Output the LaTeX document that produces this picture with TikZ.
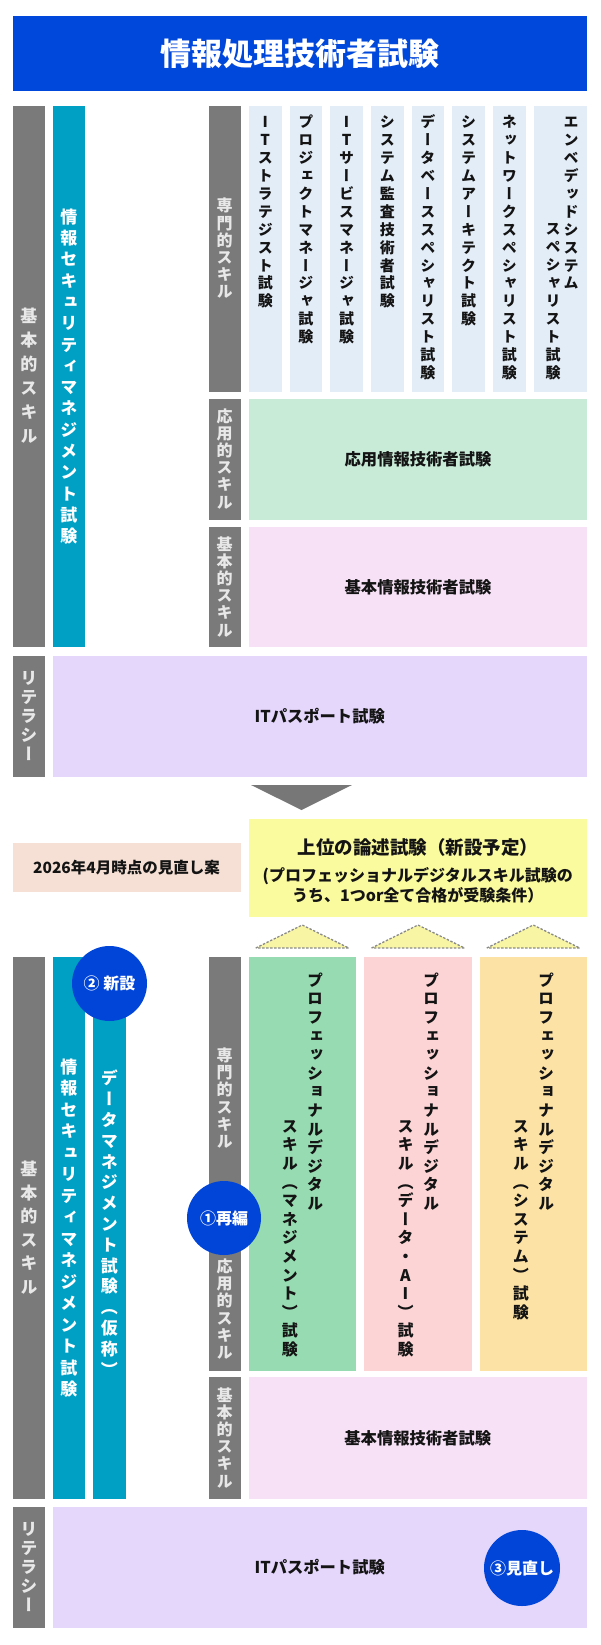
\documentclass[tikz,border=0pt]{standalone}
\usepackage{fontspec}
\setmainfont{Noto Sans CJK JP}
\newfontfamily\vfont{Noto Sans CJK JP}[RawFeature={+vert}]
\usetikzlibrary{fit}
\definecolor{titleblue}{HTML}{0047DB}
\definecolor{circblue}{HTML}{0045D8}
\definecolor{graycol}{HTML}{7A7A7A}
\definecolor{labtext}{HTML}{E8E8E8}
\definecolor{tealcol}{HTML}{00A0C5}
\definecolor{lightblue}{HTML}{E3EDF8}
\definecolor{greenA}{HTML}{C8EBD8}
\definecolor{pinkA}{HTML}{F7E1F6}
\definecolor{purplecol}{HTML}{E5D6FB}
\definecolor{yellowcol}{HTML}{FAFA9F}
\definecolor{peachcol}{HTML}{F6E0D5}
\definecolor{greenB}{HTML}{96DBB1}
\definecolor{pinkB}{HTML}{FDD4D5}
\definecolor{orangeB}{HTML}{FCE2A5}
\definecolor{trifill}{HTML}{F8F6A5}
\definecolor{tridash}{HTML}{8A8A8A}
\definecolor{arrowgray}{HTML}{777777}
\definecolor{ink}{HTML}{141414}
\ExplSyntaxOn
\cs_new:Npn \my_vcell:nn #1#2
  { \hbox_to_wd:nn {1em} { \hss \raisebox{0pt}[\dimexpr(#1pt-1em)/2+0.88em\relax][\dimexpr(#1pt-1em)/2+0.12em\relax]{#2} \hss } }
\NewDocumentCommand\vtext{mm}
  { \vbox:n { \offinterlineskip \tl_map_inline:nn {#2} { \my_vcell:nn {#1} {##1} } } }
\ExplSyntaxOff
\tikzset{
  box/.style={inner sep=0pt, outer sep=0pt, fill=#1},
  vlab/.style={inner sep=0pt, text=labtext, font=\vfont\bfseries\fontsize{16}{16}\selectfont},
  vbig/.style={inner sep=0pt, text=labtext, font=\vfont\bfseries\fontsize{17}{17}\selectfont},
  vwhite/.style={inner sep=0pt, text=white, font=\vfont\bfseries\fontsize{17}{17}\selectfont},
  vcol/.style={inner sep=0pt, text=ink, font=\vfont\bfseries\fontsize{15}{15}\selectfont},
  vprof/.style={inner sep=0pt, text=ink, font=\vfont\bfseries\fontsize{16}{16}\selectfont},
  htext/.style={inner sep=0pt, text=ink, font=\bfseries\fontsize{16.3}{16.3}\selectfont},
  badge/.style={circle, fill=circblue, inner sep=0pt, minimum size=75pt, text=white, font=\bfseries\fontsize{16}{16}\selectfont},
  dtri/.style={fill=trifill, draw=tridash, line width=1.3pt, dash pattern=on 2.4pt off 1.6pt},
}
\begin{document}
\begin{tikzpicture}[x=1pt,y=-1pt]
\useasboundingbox (0,0) rectangle (600,1645);
% ---------- title ----------
\node[box=titleblue, fit={(12.5,16) (587,91)}] (title) {};
\node[inner sep=0pt, text=white, font=\bfseries\fontsize{31}{31}\selectfont] (titletext) at (title.center) {情報処理技術者試験};
% ---------- current system ----------
\node[box=graycol, fit={(12.5,106) (45,647)}] (kihonA) {};
\node[vbig] (kihonAt) at (kihonA.center) {\vtext{24}{基本的スキル}};
\node[box=tealcol, fit={(52.5,106) (85,647)}] (secA) {};
\node[vwhite] (secAt) at (secA.center) {\vtext{21.3}{情報セキュリティマネジメント試験}};
\node[box=graycol, fit={(208.5,106) (240.5,391.5)}] (senA) {};
\node[vlab] (senAt) at (senA.center) {\vtext{17.2}{専門的スキル}};
% expert exams
\node[box=lightblue, fit={(249,106) (281.5,391.5)}] (c1) {};
\node[box=lightblue, fit={(289.7,106) (322.2,391.5)}] (c2) {};
\node[box=lightblue, fit={(330.3,106) (362.8,391.5)}] (c3) {};
\node[box=lightblue, fit={(371,106) (403.5,391.5)}] (c4) {};
\node[box=lightblue, fit={(411.7,106) (444.2,391.5)}] (c5) {};
\node[box=lightblue, fit={(452.4,106) (484.9,391.5)}] (c6) {};
\node[box=lightblue, fit={(493,106) (525.5,391.5)}] (c7) {};
\node[box=lightblue, fit={(533.7,106) (587,391.5)}] (c8) {};
\node[vcol, anchor=north] (c1t) at (c1.center |- 0,113) {\vtext{17.9}{ITストラテジスト試験}};
\node[vcol, anchor=north] (c2t) at (c2.center |- 0,113) {\vtext{17.9}{プロジェクトマネージャ試験}};
\node[vcol, anchor=north] (c3t) at (c3.center |- 0,113) {\vtext{17.9}{ITサービスマネージャ試験}};
\node[vcol, anchor=north] (c4t) at (c4.center |- 0,113) {\vtext{17.9}{システム監査技術者試験}};
\node[vcol, anchor=north] (c5t) at (c5.center |- 0,113) {\vtext{17.9}{データベーススペシャリスト試験}};
\node[vcol, anchor=north] (c6t) at (c6.center |- 0,113) {\vtext{17.9}{システムアーキテクト試験}};
\node[vcol, anchor=north] (c7t) at (c7.center |- 0,113) {\vtext{17.9}{ネットワークスペシャリスト試験}};
\node[vcol, anchor=north] (c8ta) at (571,113) {\vtext{17.9}{エンベデッドシステム}};
\node[vcol, anchor=south] (c8tb) at (553,381.5) {\vtext{17.9}{スペシャリスト試験}};
% applied
\node[box=graycol, fit={(208.5,398.5) (240.5,519.5)}] (oyoA) {};
\node[vlab] (oyoAt) at (oyoA.center) {\vtext{17.2}{応用的スキル}};
\node[box=greenA, fit={(249,398.5) (587,519.5)}] (apA) {};
\node[htext] (apAt) at (apA.center) {応用情報技術者試験};
% basic
\node[box=graycol, fit={(208.5,527) (240.5,647)}] (kisoA) {};
\node[vlab] (kisoAt) at (kisoA.center) {\vtext{17.2}{基本的スキル}};
\node[box=pinkA, fit={(249,527) (587,647)}] (feA) {};
\node[htext] (feAt) at (feA.center) {基本情報技術者試験};
% literacy
\node[box=graycol, fit={(12.5,656) (45,777)}] (litA) {};
\node[vbig] (litAt) at (litA.center) {\vtext{19}{リテラシー}};
\node[box=purplecol, fit={(52.5,656) (587,777)}] (ipA) {};
\node[htext] (ipAt) at (ipA.center) {ITパスポート試験};
% ---------- arrow ----------
\coordinate (arL) at (251,785);
\coordinate (arR) at (352,785);
\coordinate (arT) at (301.5,810);
\fill[arrowgray] (arL) -- (arR) -- (arT) -- cycle;
% ---------- new plan header ----------
\node[box=peachcol, fit={(12.5,842.7) (240.5,892.3)}] (plan) {};
\node[inner sep=0pt, text=ink, font=\bfseries\fontsize{15.5}{15.5}\selectfont] (plant) at (plan.center) {2026年4月時点の見直し案};
\node[box=yellowcol, fit={(248.5,819) (587,917)}] (ronbun) {};
\node[inner sep=0pt, text=ink, font=\bfseries\fontsize{18.5}{18.5}\selectfont] (ronbunt1) at (417.75,847) {上位の論述試験（新設予定）};
\node[inner sep=0pt, text=ink, align=center, font=\bfseries\fontsize{16}{20}\selectfont] (ronbunt2) at (417.75,885) {(プロフェッショナルデジタルスキル試験の\\うち、1つor全て合格が受験条件）};
% dashed triangles
\coordinate (t1l) at (255.75,948); \coordinate (t1a) at (302.25,925); \coordinate (t1r) at (348.75,948);
\coordinate (t2l) at (371.5,948);  \coordinate (t2a) at (418,925);    \coordinate (t2r) at (464.5,948);
\coordinate (t3l) at (486.75,948); \coordinate (t3a) at (533.25,925); \coordinate (t3r) at (579.75,948);
\draw[dtri] (t1l) -- (t1a) -- (t1r) -- cycle;
\draw[dtri] (t2l) -- (t2a) -- (t2r) -- cycle;
\draw[dtri] (t3l) -- (t3a) -- (t3r) -- cycle;
% ---------- new system ----------
\node[box=graycol, fit={(12.5,957) (45,1499)}] (kihonB) {};
\node[vbig] (kihonBt) at (kihonB.center) {\vtext{23.6}{基本的スキル}};
\node[box=tealcol, fit={(52.5,957) (85,1499)}] (secB) {};
\node[vwhite] (secBt) at (secB.center) {\vtext{21.5}{情報セキュリティマネジメント試験}};
\node[box=tealcol, fit={(93,957) (125.5,1499)}] (dmB) {};
\node[vwhite] (dmBt) at (109.25,1224) {\vtext{20.8}{データマネジメント試験（仮称）}};
\node[box=graycol, fit={(208.5,957) (240.5,1240)}] (senB) {};
\node[vlab] (senBt) at (senB.center) {\vtext{17.2}{専門的スキル}};
\node[box=graycol, fit={(208.5,1248) (240.5,1371)}] (oyoB) {};
\node[vlab] (oyoBt) at (oyoB.center) {\vtext{17.2}{応用的スキル}};
% professional digital skill exams
\node[box=greenB, fit={(248.5,957) (356,1371)}] (pdM) {};
\node[box=pinkB, fit={(364,957) (472,1371)}] (pdD) {};
\node[box=orangeB, fit={(479.5,957) (587,1371)}] (pdS) {};
\node[vprof, anchor=north] (pdMa) at (315,970.7) {\vtext{18.6}{プロフェッショナルデジタル}};
\node[vprof, anchor=north] (pdMb) at (289.75,1116.7) {\vtext{18.6}{スキル（マネジメント）試験}};
\node[vprof, anchor=north] (pdDa) at (431,970.7) {\vtext{18.6}{プロフェッショナルデジタル}};
\node[vprof, anchor=north] (pdDb) at (405.5,1116.7) {\vtext{18.6}{スキル（データ・AI）試験}};
\node[vprof, anchor=north] (pdSa) at (546,970.7) {\vtext{18.6}{プロフェッショナルデジタル}};
\node[vprof, anchor=north] (pdSb) at (520.75,1116.7) {\vtext{18.6}{スキル（システム）試験}};
% basic
\node[box=graycol, fit={(208.5,1377) (240.5,1499)}] (kisoB) {};
\node[vlab] (kisoBt) at (kisoB.center) {\vtext{17.2}{基本的スキル}};
\node[box=pinkA, fit={(248.5,1377) (587,1499)}] (feB) {};
\node[htext] (feBt) at (feB.center) {基本情報技術者試験};
% literacy
\node[box=graycol, fit={(12.5,1507) (45,1628)}] (litB) {};
\node[vbig] (litBt) at (litB.center) {\vtext{19}{リテラシー}};
\node[box=purplecol, fit={(52.5,1507) (587,1628)}] (ipB) {};
\node[htext] (ipBt) at (ipB.center) {ITパスポート試験};
% badges
\node[badge] (b2) at (109.5,983.5) {② 新設};
\node[badge, minimum size=74pt] (b1) at (224,1218) {①再編};
\node[badge, minimum size=76pt] (b3) at (522,1568) {③見直し};
\end{tikzpicture}
\end{document}
